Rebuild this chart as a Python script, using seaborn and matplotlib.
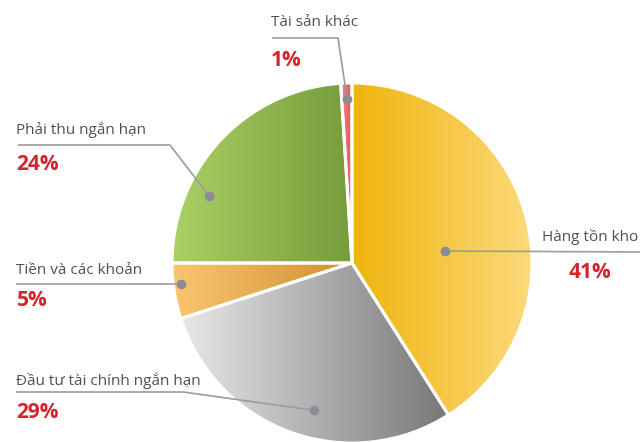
import numpy as np
import matplotlib
matplotlib.use("Agg")
import matplotlib.pyplot as plt
import matplotlib.colors as mcolors
from matplotlib.patches import Wedge
import seaborn as sns

# =========================================================
# DATA
# =========================================================
labels = ["Hàng tồn kho", "Đầu tư tài chính ngắn hạn", "Tiền và các khoản",
          "Phải thu ngắn hạn", "Tài sản khác"]
values = [41, 29, 5, 24, 1]
pct_text = ["41%", "29%", "5%", "24%", "1%"]

# gradient colours per slice (left -> right)
grad_left = ["#EFB50E", "#E8E8E9", "#FAC570", "#ABD065", "#F08A8A"]
grad_right = ["#FDD97A", "#777777", "#CF9132", "#769C3C", "#E05050"]
explode = [0.012, 0.012, 0.012, 0.008, 0.0]

# where the leader dot sits inside each slice (fraction along arc, fraction of radius)
dot_frac = [0.56, 0.45, 0.61, 0.29, 0.53]
dot_rad = [0.52, 0.845, 0.955, 0.875, 0.91]

# label anchors in picture pixels (x, y from top)
label_xy = [(542, 237), (16, 381), (16, 270), (16, 130), (271, 22)]
pct_xy = [(590, 272), (16, 412), (17, 300), (16, 165), (271, 60)]
label_ha = ["left", "left", "left", "left", "left"]
pct_ha = ["center", "left", "left", "left", "left"]
# leader line: underline start x and its y, optional elbow x, then goes to dot
line_y = [252, 392, 284, 145, 38]
line_x0 = [640, 16, 16, 18, 272]
line_elbow = [None, 183, None, 170, 338]

W, H = 643, 442
cx, cy, R = 352, 442 - 263, 180

sns.set_theme(style="white")
plt.rcParams['font.family'] = ['Open Sans', 'DejaVu Sans']

fig = plt.figure(figsize=(W / 100, H / 100), dpi=100)
ax = fig.add_axes([0, 0, 1, 1])

wedges, _ = ax.pie(values, startangle=90, counterclock=False, center=(cx, cy),
                   radius=R, explode=explode,
                   wedgeprops=dict(linewidth=0, edgecolor="white"))


def P(y):
    return H - y


# gradient fill clipped to each wedge
for i, w in enumerate(wedges):
    cmap = mcolors.LinearSegmentedColormap.from_list("g%d" % i, [grad_left[i], grad_right[i]])
    th = np.radians(np.linspace(w.theta1, w.theta2, 200))
    wx, wy = w.center
    xs = np.concatenate([[wx], wx + w.r * np.cos(th)])
    ys = np.concatenate([[wy], wy + w.r * np.sin(th)])
    grad = np.linspace(0, 1, 256).reshape(1, -1)
    im = ax.imshow(grad, cmap=cmap, extent=[xs.min(), xs.max(), ys.min(), ys.max()],
                   origin="lower", aspect="auto", zorder=2, interpolation="bilinear")
    im.set_clip_path(w)
    # white separators
    ax.add_patch(Wedge(w.center, w.r, w.theta1, w.theta2, fill=False,
                       edgecolor="white", linewidth=2.2, zorder=3))

# leader lines, dots and labels
for i, w in enumerate(wedges):
    ang = np.radians(w.theta1 + (w.theta2 - w.theta1) * (1 - dot_frac[i]))
    wx, wy = w.center
    dx = wx + dot_rad[i] * R * np.cos(ang)
    dy = wy + dot_rad[i] * R * np.sin(ang)
    ly = P(line_y[i])
    if line_elbow[i] is None:
        xs = [line_x0[i], dx]
        ys = [ly, dy]
    else:
        xs = [line_x0[i], line_elbow[i], dx]
        ys = [ly, ly, dy]
    ax.plot(xs, ys, color="#9C9C9C", lw=1.2, zorder=4, solid_capstyle="butt")
    ax.plot([dx], [dy], "o", color="#8C8D94", ms=7, zorder=5, mec="none")

    lx, lyy = label_xy[i]
    ax.text(lx, P(lyy), labels[i], ha=label_ha[i], va="center", fontsize=11,
            color="#505050", zorder=6)
    px, py = pct_xy[i]
    ax.text(px, P(py), pct_text[i], ha=pct_ha[i], va="center", fontsize=15,
            fontweight="bold", color="#D7232E", zorder=6)

ax.set_xlim(0, W)
ax.set_ylim(0, H)
ax.set_aspect("auto")
ax.axis("off")

fig.savefig("out.png", dpi=100, facecolor="white")
